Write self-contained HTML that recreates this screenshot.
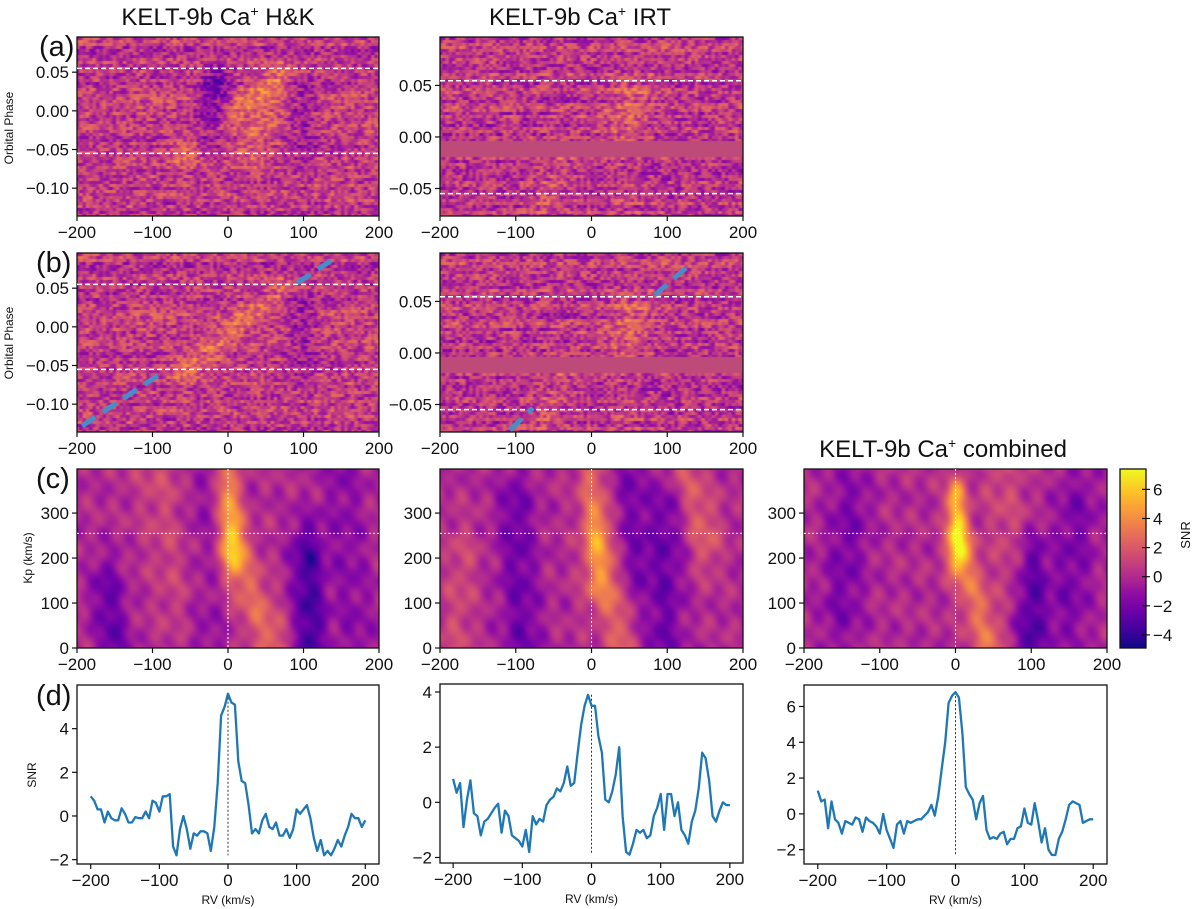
<!DOCTYPE html>
<html><head><meta charset="utf-8"><style>
html,body{margin:0;padding:0;background:#fff;}
#root{position:relative;width:1200px;height:909px;overflow:hidden;font-family:"Liberation Sans","DejaVu Sans",sans-serif;}
canvas{position:absolute;}
svg{position:absolute;left:0;top:0;}
</style></head><body>
<div id="root">
<canvas id="cv" width="1200" height="909"></canvas>
<svg id="sv" width="1200" height="909"></svg>
</div>
<script>
// ---- data ----
const rvGrid = [-200,-195,-190,-185,-180,-175,-170,-165,-160,-155,-150,-145,-140,-135,-130,-125,-120,-115,-110,-105,-100,-95,-90,-85,-80,-75,-70,-65,-60,-55,-50,-45,-40,-35,-30,-25,-20,-15,-10,-5,0,5,10,15,20,25,30,35,40,45,50,55,60,65,70,75,80,85,90,95,100,105,110,115,120,125,130,135,140,145,150,155,160,165,170,175,180,185,190,195,200];
const snrHK = [0.9,0.7,0.3,0.3,-0.3,0.2,-0.1,-0.2,-0.2,0.35,0.1,-0.3,-0.3,-0.05,-0.1,-0.1,0.2,-0.1,0.7,0.6,0.2,0.9,0.9,1.0,-1.4,-1.8,-0.6,0.0,-0.6,-1.5,-0.8,-0.9,-0.7,-0.7,-0.8,-1.6,-0.5,1.5,4.6,5.0,5.6,5.2,5.1,2.5,1.6,1.5,0.5,-0.8,-0.6,-0.8,-0.2,0.1,-0.5,-0.6,-0.3,-0.9,-0.9,-0.6,-1.0,-0.6,0.3,0.1,0.3,0.5,-0.1,-1.0,-1.6,-1.1,-1.8,-1.6,-1.8,-1.5,-1.1,-1.4,-0.9,-0.5,0.1,-0.1,-0.1,-0.5,-0.2];
const snrIRT = [0.85,0.35,0.7,-0.9,0.1,0.8,-0.4,-0.5,-1.2,-0.7,-0.6,-0.4,-0.2,-0.05,-1.1,-0.3,-0.5,-1.2,-1.3,-1.4,-1.6,-1.0,-1.8,-0.5,-0.8,-0.6,-0.7,-0.1,0.1,0.2,0.5,0.4,0.7,1.3,0.6,0.7,1.8,2.8,3.5,3.9,3.5,3.5,2.4,1.8,0.1,0.0,0.4,1.0,2.0,-0.5,-1.8,-1.9,-1.5,-1.0,-1.1,-1.0,-1.3,-1.2,-0.5,-0.2,0.3,-1.0,0.3,0.3,-0.5,0.0,-1.0,-1.2,-1.5,-0.7,-0.3,0.5,1.8,1.6,0.8,-0.5,-0.7,-0.3,0.0,-0.1,-0.1];
const snrComb = [1.3,0.7,0.8,-0.8,0.7,-0.3,-0.5,-1.1,-0.4,-0.5,-0.6,-0.2,-0.3,-1.0,-0.2,-0.4,-0.5,-0.7,-1.1,0.0,-0.9,-1.4,-1.9,-0.6,-0.4,-1.1,-0.4,-0.5,-0.4,-0.3,-0.3,-0.1,0.1,0.5,-0.1,1.0,2.5,4.0,6.2,6.6,6.8,6.5,4.5,1.5,1.1,0.8,-0.3,0.6,1.0,-0.9,-1.4,-1.3,-1.4,-1.1,-1.0,-1.7,-1.4,-1.4,-0.8,-0.7,0.3,-0.5,-0.6,0.6,-0.4,-1.6,-0.8,-2.0,-2.3,-2.3,-1.4,-1.0,-0.3,0.5,0.7,0.6,0.5,-0.5,-0.4,-0.3,-0.3];
// Kp map features: [vTop, kpTop, vBottom, kpBottom, amplitude, width]
const kpFeatHK = [[0,360,8,220,4.3,10],[5,220,60,0,2.6,14],[105,200,110,0,-3.5,15],[-160,120,-150,0,-2.5,15],[-90,400,-60,150,1.3,25],[150,400,170,0,-1.3,20],[-40,300,-30,0,-1.3,20]];
const kpFeatIRT = [[0,400,5,150,2.6,13],[10,250,40,0,2.6,11],[-100,300,-90,0,-2.2,18],[100,300,95,0,-2.2,18],[120,400,150,250,2.2,15],[50,400,60,200,-1.8,15],[-170,200,-180,0,1.3,15]];
const kpFeatComb = [[0,330,4,220,5.3,9],[5,220,45,0,3.0,13],[100,180,100,0,-3.2,15],[-140,300,-150,100,-1.8,20],[160,300,150,100,-1.8,20],[60,400,80,200,1.3,20]];
// Phase map features: [v0, ph0, v1, ph1, amplitude, width]
const phFeatHKa = [[-25,-0.04,-15,0.04,-1.6,14],[-60,-0.06,70,0.05,0.9,14],[30,-0.05,60,0.03,0.8,18],[100,-0.06,100,0.03,-0.9,12]];
const phFeatHKb = [[-60,-0.06,70,0.05,1.0,13],[100,-0.06,100,0.03,-0.9,12]];
const phFeatIRT = [[40,0.0,55,0.04,0.8,18],[-60,-0.06,-40,-0.03,0.5,20]];
const cbTicks = [-4,-2,0,2,4,6];

// ---- helpers ----
const sv = document.getElementById('sv');
const ctx = document.getElementById('cv').getContext('2d');
const NS='http://www.w3.org/2000/svg';
function el(tag, attrs, parent){const e=document.createElementNS(NS,tag);for(const k in attrs)e.setAttribute(k,attrs[k]);(parent||sv).appendChild(e);return e;}
const plasma=[[13,8,135],[65,4,157],[106,0,168],[143,13,164],[177,42,144],[204,71,120],[225,100,98],[242,132,75],[252,166,54],[252,206,37],[240,249,33]];
function cmap(t){t=Math.max(0,Math.min(1,t))*10;const i=Math.min(9,Math.floor(t)),f=t-i;const a=plasma[i],b=plasma[i+1];return [a[0]+(b[0]-a[0])*f,a[1]+(b[1]-a[1])*f,a[2]+(b[2]-a[2])*f];}
function hash(a,b,s){let h=(a*374761393+b*668265263+s*2147483647)|0;h=(h^(h>>>13))*1274126177;h=h^(h>>>16);return ((h>>>0)%10000)/10000;}
function segDist(x,y,f,sx,sy){const ax=f[0]*sx,ay=f[1]*sy,bx=f[2]*sx,by=f[3]*sy;const px=x*sx,py=y*sy;const dx=bx-ax,dy=by-ay;let t=((px-ax)*dx+(py-ay)*dy)/(dx*dx+dy*dy||1);t=Math.max(0,Math.min(1,t));const qx=ax+t*dx-px,qy=ay+t*dy-py;return Math.sqrt(qx*qx+qy*qy);}
function mk(x,y,w,h,xl,yl){return {x,y,w,h,xl,yl,sx:v=>x+(v-xl[0])/(xl[1]-xl[0])*w,sy:v=>y+h-(v-yl[0])/(yl[1]-yl[0])*h};}

function axes(A,name,xt,xtl,yt,ytl,fs){
  const g=el('g',{});
  el('rect',{x:A.x,y:A.y,width:A.w,height:A.h,fill:'none',stroke:'#111','stroke-width':1.3},g);
  xt.forEach((t,i)=>{const X=A.sx(t);el('line',{x1:X,x2:X,y1:A.y+A.h,y2:A.y+A.h+5,stroke:'#111','stroke-width':1.2},g);
    if(xtl){const tx=el('text',{x:X,y:A.y+A.h+22,'font-size':fs||17,'text-anchor':'middle',fill:'#111'},g);tx.textContent=xtl[i];}});
  yt.forEach((t,i)=>{const Y=A.sy(t);el('line',{x1:A.x-5,x2:A.x,y1:Y,y2:Y,stroke:'#111','stroke-width':1.2},g);
    const tx=el('text',{x:A.x-8,y:Y+6,'font-size':fs||17,'text-anchor':'end',fill:'#111'},g);tx.textContent=ytl[i];});
  return g;
}
function txt(x,y,s,fs,anchor,name,rot){const t=el('text',{x,y,'font-size':fs,'text-anchor':anchor||'middle',fill:'#111',transform:rot?`rotate(-90 ${x} ${y})`:''});t.textContent=s;return t;}
const neg=v=>v<0?'\u2212'+(-v):''+v;

// ---- Kp maps ----
function kpMap(A,feat,vmin,vmax,seed){
  const img=ctx.createImageData(A.w,A.h);
  for(let j=0;j<A.h;j++)for(let i=0;i<A.w;i++){
    const v=A.xl[0]+(i+0.5)/A.w*(A.xl[1]-A.xl[0]);const kp=A.yl[1]-(j+0.5)/A.h*(A.yl[1]-A.yl[0]);
    let val=0;feat.forEach(f=>{const d=segDist(v,kp,f,1,0.25);val+=f[4]*Math.exp(-d*d/(2*f[5]*f[5]));});
    val+=0.6*Math.sin((v+kp*0.35)/9+seed)*Math.sin((v-kp*0.3)/13+seed*2)+0.35*Math.sin((v-kp*0.45)/6+seed*3)+0.3*Math.sin((v+kp*0.5)/5+seed);
    const c=cmap((val-vmin)/(vmax-vmin));const k=(j*A.w+i)*4;img.data[k]=c[0];img.data[k+1]=c[1];img.data[k+2]=c[2];img.data[k+3]=255;}
  ctx.putImageData(img,A.x,A.y);
}
function phMap(A,feat,seed,gap){
  const img=ctx.createImageData(A.w,A.h);const nrow=60,ncol=90;
  for(let j=0;j<A.h;j++)for(let i=0;i<A.w;i++){
    const v=A.xl[0]+(i+0.5)/A.w*(A.xl[1]-A.xl[0]);const ph=A.yl[1]-(j+0.5)/A.h*(A.yl[1]-A.yl[0]);
    const r=Math.floor((j/A.h)*nrow),cI=i/A.w*ncol,c0=Math.floor(cI),fr=cI-c0;
    let val=(hash(r,c0,seed)*(1-fr)+hash(r,c0+1,seed)*fr-0.5)*2.6+(hash(r,999,seed)-0.5)*0.8;
    feat.forEach(f=>{const d=segDist(v,ph,f,1,1200);val+=f[4]*Math.exp(-d*d/(2*f[5]*f[5]));});
    let c=cmap((val+3.3)/7.4);
    if(gap&&ph<gap[1]&&ph>gap[0])c=[190,74,122];
    const k=(j*A.w+i)*4;img.data[k]=c[0];img.data[k+1]=c[1];img.data[k+2]=c[2];img.data[k+3]=255;}
  ctx.putImageData(img,A.x,A.y);
}
function hdash(A,ph){el('line',{x1:A.x,x2:A.x+A.w,y1:A.sy(ph),y2:A.sy(ph),stroke:'#fff','stroke-width':1.5,'stroke-dasharray':'5,3',});}

const xr=[-200,200];
const aL=mk(77,37,302,179,xr,[-0.136,0.0955]), bL=mk(77,253,302,179,xr,[-0.136,0.0955]);
const aR=mk(440,37,303,179,xr,[-0.0767,0.097]), bR=mk(440,253,303,179,xr,[-0.0767,0.097]);
const cL=mk(77,469,302,179,xr,[0,398]), cM=mk(440,469,303,179,xr,[0,398]), cR=mk(804,469,303,179,xr,[0,398]);
const dL=mk(77,685,302,179,[-220,220],[-2.2,6.0]), dM=mk(440,684,303,179,[-219,219],[-2.2,4.29]), dR=mk(804,685,303,179,[-220,220],[-2.8,7.2]);
const gapPh=[-0.019,-0.004];

phMap(aL,phFeatHKa,1,null);phMap(bL,phFeatHKb,1,null);
phMap(aR,phFeatIRT,2,gapPh);phMap(bR,phFeatIRT,2,gapPh);
kpMap(cL,kpFeatHK,-4.9,7.4,0.3);kpMap(cM,kpFeatIRT,-4.9,7.4,1.7);kpMap(cR,kpFeatComb,-4.9,7.4,2.9);
// colorbar
const cb={x:1120,y:469,w:26,h:179,lo:-4.9,hi:7.4};
for(let j=0;j<cb.h;j++){const c=cmap(1-j/cb.h);ctx.fillStyle=`rgb(${c[0]|0},${c[1]|0},${c[2]|0})`;ctx.fillRect(cb.x,cb.y+j,cb.w,1);}

const xt=[-200,-100,0,100,200],xtl=xt.map(neg);
[[aL,[0.05,0,-0.05,-0.1],['0.05','0.00','\u22120.05','\u22120.10'],'panel-a-hk'],[bL,[0.05,0,-0.05,-0.1],['0.05','0.00','\u22120.05','\u22120.10'],'panel-b-hk'],
 [aR,[0.05,0,-0.05],['0.05','0.00','\u22120.05'],'panel-a-irt'],[bR,[0.05,0,-0.05],['0.05','0.00','\u22120.05'],'panel-b-irt']].forEach(p=>axes(p[0],p[3],xt,xtl,p[1],p[2]));
[[cL,'panel-c-hk'],[cM,'panel-c-irt'],[cR,'panel-c-combined']].forEach(p=>{axes(p[0],p[1],xt,xtl,[0,100,200,300],['0','100','200','300']);
  el('line',{x1:p[0].sx(0),x2:p[0].sx(0),y1:p[0].y,y2:p[0].y+p[0].h,stroke:'#fff','stroke-width':1,'stroke-dasharray':'2,2',});
  el('line',{x1:p[0].x,x2:p[0].x+p[0].w,y1:p[0].sy(255),y2:p[0].sy(255),stroke:'#fff','stroke-width':1,'stroke-dasharray':'2,2',});});
[aL,bL].forEach(A=>{hdash(A,0.055);hdash(A,-0.055);});
[aR,bR].forEach(A=>{hdash(A,0.0545);hdash(A,-0.055);});
// planet trail markers in (b)
[[82,426,163,372],[297,283,332,260],[655,295,687,267],[510,430,533,408]].forEach(s=>{el('line',{x1:s[0],y1:s[1],x2:s[2],y2:s[3],stroke:'#4a8cc6','stroke-width':5,'stroke-dasharray':'16,9',});});

// colorbar axes
const cbg=el('g',{});
el('rect',{x:cb.x,y:cb.y,width:cb.w,height:cb.h,fill:'none',stroke:'#111','stroke-width':1.3},cbg);
cbTicks.forEach(t=>{const Y=cb.y+cb.h-(t-cb.lo)/(cb.hi-cb.lo)*cb.h;el('line',{x1:cb.x+cb.w-4,x2:cb.x+cb.w+4,y1:Y,y2:Y,stroke:'#111','stroke-width':1.2},cbg);
  const tx=el('text',{x:cb.x+cb.w+7,y:Y+6,'font-size':17,fill:'#111'},cbg);tx.textContent=neg(t);});
txt(1190,535,'SNR',13,'middle','colorbar-label',true);

// ---- line panels ----
function linePanel(A,ys,yt,name){
  axes(A,name,xt,xtl,yt,yt.map(neg));
  const mn=Math.min(...ys),mx=Math.max(...ys);
  el('line',{x1:A.sx(0),x2:A.sx(0),y1:A.sy(mx),y2:A.sy(mn),stroke:'#333','stroke-width':1,'stroke-dasharray':'2,2',});
  const p=el('polyline',{points:rvGrid.map((v,i)=>A.sx(v).toFixed(1)+','+A.sy(ys[i]).toFixed(1)).join(' '),fill:'none',stroke:'#1f77b4','stroke-width':2.3,'stroke-linejoin':'round'});
  
  
  txt(A.x+A.w/2,A.y+A.h+40,'RV (km/s)',12,'middle','x-axis-title');
}
linePanel(dL,snrHK,[-2,0,2,4],'panel-d-hk');
linePanel(dM,snrIRT,[-2,0,2,4],'panel-d-irt');
linePanel(dR,snrComb,[-2,0,2,4,6],'panel-d-combined');

// labels
txt(13,128,'Orbital Phase',12,'middle','y-axis-title-a',true);
txt(13,343,'Orbital Phase',12,'middle','y-axis-title-b',true);
txt(32,558,'Kp (km/s)',12,'middle','y-axis-title-c',true);
txt(36,775,'SNR',12,'middle','y-axis-title-d',true);
txt(39,56,'(a)',29,'start','panel-label-a');
txt(36,272,'(b)',29,'start','panel-label-b');
txt(36,488,'(c)',29,'start','panel-label-c');
txt(36,705,'(d)',29,'start','panel-label-d');
const t1=txt(218,25,'',24,'middle','title-hk');t1.innerHTML='KELT-9b Ca<tspan dy="-9" font-size="14">+</tspan><tspan dy="9"> H&amp;K</tspan>';
const t2=txt(580,25,'',24,'middle','title-irt');t2.innerHTML='KELT-9b Ca<tspan dy="-9" font-size="14">+</tspan><tspan dy="9"> IRT</tspan>';
const t3=txt(943,457,'',24,'middle','title-combined');t3.innerHTML='KELT-9b Ca<tspan dy="-9" font-size="14">+</tspan><tspan dy="9"> combined</tspan>';
</script>
</body></html>
